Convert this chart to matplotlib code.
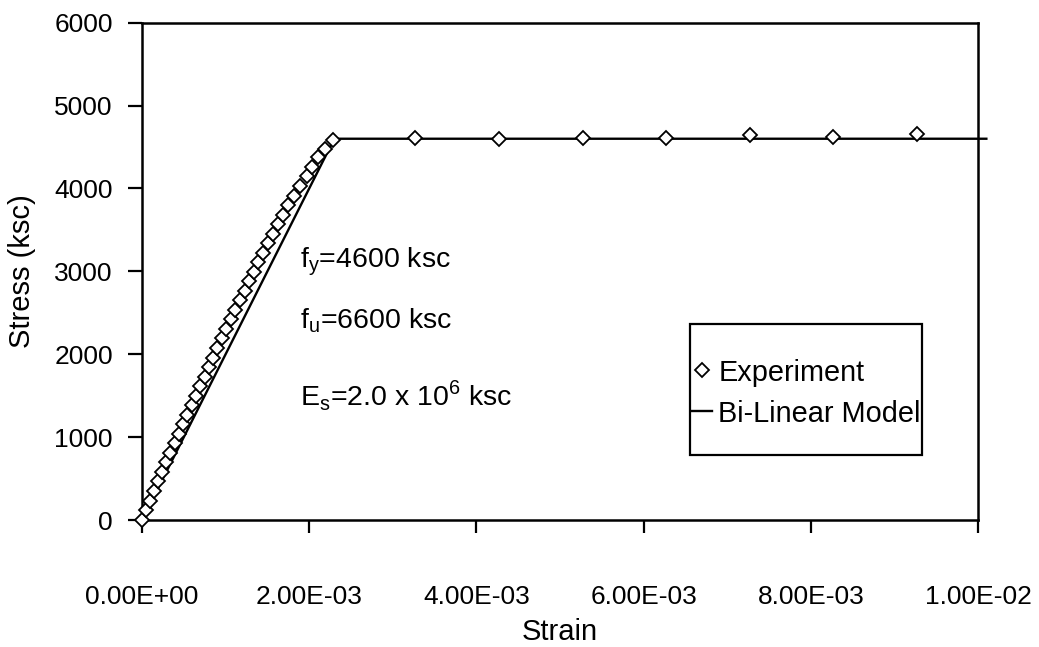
import matplotlib
matplotlib.use('agg')
from matplotlib import pyplot as plt
from matplotlib.ticker import FixedLocator, FuncFormatter
from matplotlib.patches import Rectangle

plt.rcParams["font.family"] = ["Liberation Sans", "DejaVu Sans"]
plt.rcParams["mathtext.fontset"] = "custom"
plt.rcParams["mathtext.rm"] = "Liberation Sans"
plt.rcParams["axes.linewidth"] = 1.8

# tensile test, elastic branch then yield plateau
exp_strain = [0.0, 0.049e-3, 0.096e-3, 0.144e-3, 0.193e-3, 0.241e-3, 0.292e-3, 0.340e-3,
              0.389e-3, 0.442e-3, 0.491e-3, 0.540e-3, 0.596e-3, 0.645e-3, 0.694e-3,
              0.748e-3, 0.803e-3, 0.853e-3, 0.903e-3, 0.958e-3, 1.008e-3, 1.065e-3,
              1.115e-3, 1.173e-3, 1.230e-3, 1.282e-3, 1.340e-3, 1.392e-3, 1.451e-3,
              1.503e-3, 1.563e-3, 1.624e-3, 1.686e-3, 1.748e-3, 1.820e-3, 1.894e-3,
              1.969e-3, 2.034e-3, 2.111e-3, 2.191e-3, 2.29e-3,
              3.27e-3, 4.27e-3, 5.27e-3, 6.27e-3, 7.27e-3, 8.27e-3, 9.27e-3]
exp_stress = [0, 120, 235, 350, 465, 580, 695, 810, 925, 1040, 1155, 1270, 1385, 1500,
              1615, 1730, 1845, 1960, 2075, 2190, 2305, 2420, 2535, 2650, 2765, 2880,
              2995, 3110, 3225, 3340, 3455, 3570, 3685, 3800, 3915, 4030, 4145, 4260,
              4375, 4480, 4580,
              4610, 4600, 4610, 4610, 4640, 4620, 4660]

# bi-linear model: Es = 2.0e6 ksc, fy = 4600 ksc
model_strain = [0.0, 0.0023, 0.0101]
model_stress = [0, 4600, 4600]

x_ticks = [0.0, 0.002, 0.004, 0.006, 0.008, 0.010]
y_ticks = [0, 1000, 2000, 3000, 4000, 5000, 6000]

W, H = 1039, 647
fig = plt.figure(figsize=(W / 100, H / 100), dpi=100)
ax = fig.add_axes([142 / W, 1 - 520 / H, 836 / W, 497.3 / H])

ax.plot(exp_strain, exp_stress, linestyle='none', marker='D', markersize=7.4,
        markerfacecolor='white', markeredgecolor='black', markeredgewidth=1.3,
        clip_on=False, zorder=3, label='Experiment')
ax.plot(model_strain, model_stress, color='black', lw=1.7, clip_on=False,
        zorder=2, label='Bi-Linear Model')

ax.set_xlim(0, 0.01)
ax.set_ylim(0, 6000)
ax.xaxis.set_major_locator(FixedLocator(x_ticks))
ax.yaxis.set_major_locator(FixedLocator(y_ticks))
ax.xaxis.set_major_formatter(FuncFormatter(lambda v, p: '%.2E' % v))
ax.tick_params(axis='x', direction='out', length=9.5, width=1.6, pad=37, labelsize=19)
ax.tick_params(axis='y', direction='out', length=10, width=1.6, pad=11, labelsize=19)

ax.set_xlabel('Strain', fontsize=21)
ax.xaxis.set_label_coords(0.5, -0.226)
ax.xaxis.label.set_va('center')
ax.set_ylabel('Stress (ksc)', fontsize=21)
ax.yaxis.set_label_coords(-0.1435, 0.5)
ax.yaxis.label.set_va('center')

txt = dict(fontsize=20.5, ha='left', va='center', transform=ax.transAxes)
x0 = (300 - 142) / 836
ax.text(x0, (520 - 262) / 497.3, r'f$_\mathregular{y}$=4600 ksc', **txt)
ax.text(x0, (520 - 321) / 497.3, r'f$_\mathregular{u}$=6600 ksc', **txt)
ax.text(x0, (520 - 396) / 497.3, r'E$_\mathregular{s}$=2.0 x 10$^\mathregular{6}$ ksc', **txt)

# legend box
bx0, bx1 = (690 - 142) / 836, (922 - 142) / 836
by0, by1 = (520 - 455) / 497.3, (520 - 324) / 497.3
ax.add_patch(Rectangle((bx0, by0), bx1 - bx0, by1 - by0, transform=ax.transAxes,
                       fill=True, facecolor='white', edgecolor='black', lw=1.6, zorder=4))
leg = ax.legend(loc='center left', bbox_to_anchor=(bx0 + 0.002, (520 - 393) / 497.3),
                frameon=False, fontsize=20.8, borderpad=0, borderaxespad=0,
                handlelength=0.7, handletextpad=0.22, labelspacing=0.45)
leg.set_zorder(5)

plt.savefig('out.png')
plt.close()
